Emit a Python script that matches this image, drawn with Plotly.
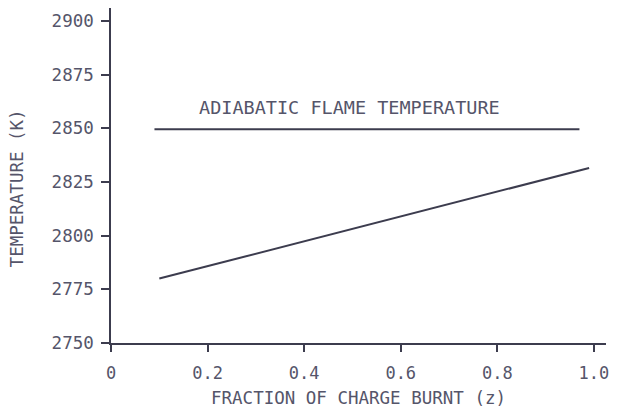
import plotly.graph_objects as go

# Data
adiabatic_z = [0.09, 0.97]
adiabatic_T = [2849.5, 2849.5]
burnt_z = [0.10, 0.99]
burnt_T = [2780, 2831.5]
x_ticks = [0, 0.2, 0.4, 0.6, 0.8, 1.0]
x_tick_labels = ["0", "0.2", "0.4", "0.6", "0.8", "1.0"]
y_ticks = [2750, 2775, 2800, 2825, 2850, 2875, 2900]
label_text = "ADIABATIC FLAME TEMPERATURE"

ink = "#3c3c4e"
txt = "#55556a"
font = "DejaVu Sans Mono"

fig = go.Figure()
fig.add_trace(go.Scatter(x=adiabatic_z, y=adiabatic_T, mode="lines",
                         line=dict(color=ink, width=2), showlegend=False))
fig.add_trace(go.Scatter(x=burnt_z, y=burnt_T, mode="lines",
                         line=dict(color=ink, width=2), showlegend=False))

fig.add_annotation(x=0.494, y=2859.5, xref="x", yref="y", text=label_text,
                   showarrow=False, font=dict(family=font, size=18.5, color=txt))
fig.add_annotation(x=0.5, y=0, xref="paper", yref="paper", yshift=-55,
                   text="FRACTION OF CHARGE BURNT (z)",
                   showarrow=False, font=dict(family=font, size=17.5, color=txt),
                   yanchor="middle")
fig.add_annotation(x=0, y=2822, xref="paper", yref="y", xshift=-94,
                   text="TEMPERATURE (K)", xanchor="center",
                   showarrow=False, textangle=-90, font=dict(family=font, size=17.5, color=txt))

fig.update_layout(
    width=619, height=409,
    margin=dict(l=111, r=13, t=8, b=66),
    plot_bgcolor="white", paper_bgcolor="white",
    font=dict(family=font, color=txt),
)
fig.update_xaxes(range=[0, 1.025], tickvals=x_ticks, ticktext=x_tick_labels,
                 showgrid=False, zeroline=False, showline=True, linecolor=ink, linewidth=1.5,
                 ticks="outside", ticklen=7, tickwidth=1.5, tickcolor=ink,
                 tickfont=dict(family=font, size=17, color=txt), ticklabelstandoff=7)
fig.update_yaxes(range=[2750, 2906], tickvals=y_ticks,
                 showgrid=False, zeroline=False, showline=True, linecolor=ink, linewidth=1.5,
                 ticks="outside", ticklen=8, tickwidth=1.5, tickcolor=ink,
                 tickfont=dict(family=font, size=17.5, color=txt), ticklabelstandoff=4)

fig.write_html("out.html")
